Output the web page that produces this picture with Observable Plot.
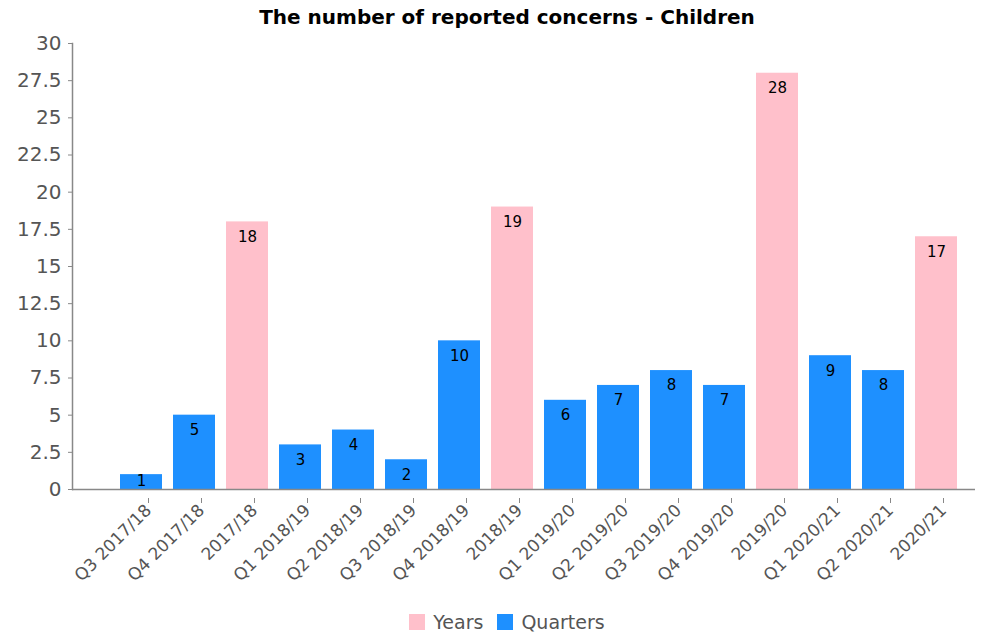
<!DOCTYPE html>
<html><head><meta charset="utf-8">
<script src="https://cdn.jsdelivr.net/npm/d3@7"></script>
<script src="https://cdn.jsdelivr.net/npm/@observablehq/plot@0.6"></script>
<style>
body{margin:0;background:#fff;font-family:"DejaVu Sans",sans-serif;width:988px;height:636px;overflow:hidden;}
#title{height:26px;line-height:34px;text-align:center;font-weight:bold;font-size:20px;padding-left:26px;color:#000;box-sizing:border-box;overflow:visible;position:relative;z-index:2;}
#chart svg{display:block;}
#legend{display:flex;justify-content:center;align-items:center;padding-top:16px;padding-left:26px;height:20px;font-size:19px;color:#555;}
#legend .sw{width:16px;height:16px;margin-right:8px;}
#legend .it{display:flex;align-items:center;margin:0 7px;}
</style></head><body>
<div id="title">The number of reported concerns - Children</div>
<div id="chart"></div>
<div id="legend"></div>
<script>
const categories = ["Q3 2017/18","Q4 2017/18","2017/18","Q1 2018/19","Q2 2018/19","Q3 2018/19","Q4 2018/19","2018/19","Q1 2019/20","Q2 2019/20","Q3 2019/20","Q4 2019/20","2019/20","Q1 2020/21","Q2 2020/21","2020/21"];
const values = [1,5,18,3,4,2,10,19,6,7,8,7,28,9,8,17];
const types = ["Quarters","Quarters","Years","Quarters","Quarters","Quarters","Quarters","Years","Quarters","Quarters","Quarters","Quarters","Years","Quarters","Quarters","Years"];
const seriesNames = ["Years","Quarters"];
const seriesColors = ["#FFC0CB","#1E90FF"];
const yTicks = [0,2.5,5,7.5,10,12.5,15,17.5,20,22.5,25,27.5,30];

const data = categories.map((c,i)=>({cat:c, value:values[i], type:types[i]}));

const chart = Plot.plot({
  width: 988, height: 570,
  marginTop: 17, marginLeft: 72, marginRight: 13, marginBottom: 107,
  style: {fontFamily: "DejaVu Sans", fontSize: "16px", background: "transparent"},
  x: {domain: categories, paddingInner: 0.2, paddingOuter: 0.1, insetLeft: 42.5, insetRight: 12.5, label: null},
  y: {domain: [0, 30], label: null},
  color: {domain: seriesNames, range: seriesColors},
  marks: [
    Plot.barY(data, {x: "cat", y: "value", fill: "type"}),
    Plot.text(data, {filter: d => d.value >= 2, x: "cat", y: "value", text: d => String(d.value), dy: 15, fontSize: 15, fill: "#000"}),
    Plot.text(data, {filter: d => d.value < 2, x: "cat", y: "value", text: d => String(d.value), dy: 7, fontSize: 15, fill: "#000"}),
    Plot.axisY({ticks: yTicks, tickFormat: d => String(d), tickSize: 4, tickPadding: 7, fontSize: 20, stroke: "#888", fill: "#555", label: null}),
    Plot.axisX({tickRotate: -45, tickSize: 5, tickPadding: 4, dx: 7, dy: 9, fontSize: 17, stroke: "#888", fill: "#555", label: null}),
    Plot.ruleY([0], {stroke: "#888", strokeWidth: 1.5}),
    Plot.frame({anchor: "left", stroke: "#888", strokeWidth: 1.5})
  ]
});
document.getElementById("chart").appendChild(chart);

const leg = document.getElementById("legend");
seriesNames.forEach((n,i)=>{
  const it = document.createElement("div"); it.className = "it";
  const sw = document.createElement("div"); sw.className = "sw"; sw.style.background = seriesColors[i];
  const tx = document.createElement("span"); tx.textContent = n;
  it.appendChild(sw); it.appendChild(tx); leg.appendChild(it);
});
</script>
</body></html>
